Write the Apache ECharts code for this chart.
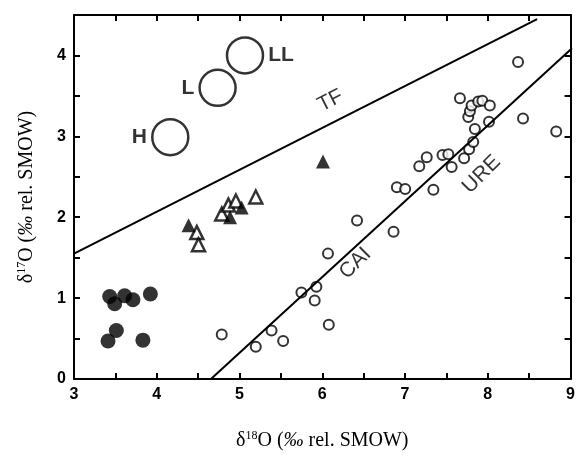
<!DOCTYPE html>
<html>
<head>
<meta charset="utf-8">
<script src="https://cdn.jsdelivr.net/npm/echarts@6/dist/echarts.min.js"></script>
<style>
html,body{margin:0;padding:0;background:#fff}
#wrap{position:relative;width:578px;height:457px}
#frame,#plot{position:absolute;left:0;top:0;width:578px;height:457px}
#plot{z-index:2}
#frame{z-index:1}
</style>
</head>
<body>
<div id="wrap"><div id="frame"></div><div id="plot"></div></div>
<script>
// Ordinary chondrite groups (large open circles)
const ocNames = ['H', 'L', 'LL'];
const ocX = [4.16, 4.73, 5.06];
const ocY = [2.99, 3.60, 4.00];

// Filled circles
const fcX = [3.43, 3.49, 3.61, 3.71, 3.92, 3.51, 3.41, 3.83];
const fcY = [1.02, 0.93, 1.03, 0.98, 1.05, 0.60, 0.47, 0.48];

// Filled triangles
const ftX = [4.38, 4.88, 5.02, 6.00];
const ftY = [1.90, 2.00, 2.12, 2.69];

// Open triangles
const otX = [4.48, 4.50, 4.78, 4.86, 4.95, 5.19];
const otY = [1.81, 1.66, 2.04, 2.15, 2.20, 2.25];

// Small open circles
const scX = [4.78, 5.19, 5.38, 5.52, 5.74, 5.92, 5.90, 6.07, 6.06, 6.41, 6.85, 6.89, 6.99, 7.16, 7.25, 7.33, 7.44, 7.51, 7.55, 7.70, 7.76, 7.81, 7.83, 7.65, 7.75, 7.77, 7.79, 7.87, 7.92, 8.01, 8.00, 8.35, 8.41, 8.81];
const scY = [0.55, 0.40, 0.60, 0.47, 1.07, 1.14, 0.97, 0.67, 1.55, 1.96, 1.82, 2.37, 2.35, 2.63, 2.74, 2.34, 2.77, 2.78, 2.62, 2.73, 2.84, 2.93, 3.09, 3.47, 3.24, 3.31, 3.38, 3.43, 3.44, 3.38, 3.18, 3.92, 3.22, 3.06];

// Reference lines
const tfX = [3, 8.58];
const tfY = [1.55, 4.45];
const caiX = [4.65, 9];
const caiY = [0, 4.09];

// Line labels
const lineLabels = ['TF', 'CAI', 'URE'];
const lineLabelX = [6.09, 6.39, 7.91];
const lineLabelY = [3.44, 1.43, 2.53];
const lineLabelRot = [27, 45, 45];

// Axis ranges
const xRange = [3, 9];
const yRange = [0, 4.5];

const zip = (xs, ys) => xs.map((x, i) => [x, ys[i]]);
const sans = 'Liberation Sans, Arial, sans-serif';
const serif = 'Liberation Serif, Times New Roman, serif';
const gridPos = { left: 74, right: 6, top: 15, bottom: 78 };

function axisBase(showLabel) {
  return {
    type: 'value', interval: 1,
    axisLine: { show: true, onZero: false, lineStyle: { color: '#000', width: 2 } },
    axisTick: { show: true, inside: true, length: 6, lineStyle: { color: '#000', width: 2 } },
    minorTick: { show: true, splitNumber: 2, length: 6, lineStyle: { color: '#000', width: 2 } },
    splitLine: { show: false },
    axisLabel: showLabel
      ? { show: true, color: '#000', fontFamily: sans, fontWeight: 'bold', fontSize: 16,
          formatter: v => (Math.abs(v - Math.round(v)) < 1e-9 ? String(Math.round(v)) : '') }
      : { show: false }
  };
}
const titleRich = {
  d: { fontFamily: serif, fontSize: 20, color: '#000' },
  i: { fontFamily: serif, fontSize: 20, color: '#000', fontStyle: 'italic' },
  s: { fontFamily: serif, fontSize: 12, color: '#000', verticalAlign: 'top', padding: [0, 0, 10, 0] }
};

// Frame chart: axes, ticks, labels and titles
const x0 = Object.assign(axisBase(true), { min: xRange[0], max: xRange[1], position: 'bottom' });
x0.name = '{d|δ}{s|18}{d|O (}{i|‰}{d| rel. SMOW)}';
x0.nameLocation = 'middle';
x0.nameGap = 51;
x0.nameTextStyle = { rich: titleRich };
const y0 = Object.assign(axisBase(true), { min: yRange[0], max: yRange[1], position: 'left' });
y0.name = '{d|δ}{s|17}{d|O (}{i|‰}{d| rel. SMOW)}';
y0.nameLocation = 'middle';
y0.nameGap = 36;
y0.nameRotate = 90;
y0.nameTextStyle = { rich: titleRich };

const frame = echarts.init(document.getElementById('frame'));
frame.setOption({
  animation: false,
  grid: gridPos,
  xAxis: [x0, Object.assign(axisBase(false), { min: xRange[0], max: xRange[1], position: 'top' })],
  yAxis: [y0, Object.assign(axisBase(false), { min: yRange[0], max: yRange[1], position: 'right' })],
  series: [
    { type: 'scatter', data: [], silent: true },
    { type: 'scatter', xAxisIndex: 1, yAxisIndex: 1, data: [], silent: true }
  ]
});

// Plot chart: data marks on identical (hidden) axes
const hiddenAxis = (r) => ({ type: 'value', min: r[0], max: r[1], show: false, splitLine: { show: false } });
const plot = echarts.init(document.getElementById('plot'));
plot.setOption({
  animation: false,
  grid: gridPos,
  xAxis: hiddenAxis(xRange),
  yAxis: hiddenAxis(yRange),
  series: [
    { type: 'line', data: zip(tfX, tfY), symbol: 'none', silent: true, lineStyle: { color: '#000', width: 2 } },
    { type: 'line', data: zip(caiX, caiY), symbol: 'none', silent: true, lineStyle: { color: '#000', width: 2 } },
    {
      type: 'scatter', symbol: 'circle', symbolSize: 36,
      data: ocX.map((x, i) => ({ value: [x, ocY[i]], name: ocNames[i], label: { position: i === 2 ? 'right' : 'left' } })),
      itemStyle: { color: '#fff', borderColor: '#000', borderWidth: 2.5 },
      label: { show: true, formatter: '{b}', distance: 4, color: '#000', fontFamily: sans, fontWeight: 'bold', fontSize: 21 }
    },
    { type: 'scatter', symbol: 'circle', symbolSize: 15, data: zip(fcX, fcY), itemStyle: { color: '#000' } },
    { type: 'scatter', symbol: 'circle', symbolSize: 10, data: zip(scX, scY), itemStyle: { color: '#fff', borderColor: '#000', borderWidth: 2 } },
    { type: 'scatter', symbol: 'triangle', symbolSize: 13, data: zip(otX, otY), itemStyle: { color: '#fff', borderColor: '#000', borderWidth: 2.5 } },
    { type: 'scatter', symbol: 'triangle', symbolSize: 14, data: zip(ftX, ftY), itemStyle: { color: '#000' } },
    {
      type: 'scatter', symbolSize: 1, silent: true,
      data: lineLabelX.map((x, i) => ({ value: [x, lineLabelY[i]], name: lineLabels[i], label: { rotate: lineLabelRot[i] } })),
      itemStyle: { color: 'rgba(0,0,0,0)' },
      label: { show: true, position: 'inside', formatter: '{b}', color: '#000', fontFamily: sans, fontSize: 21 }
    }
  ]
});
</script>
</body>
</html>
